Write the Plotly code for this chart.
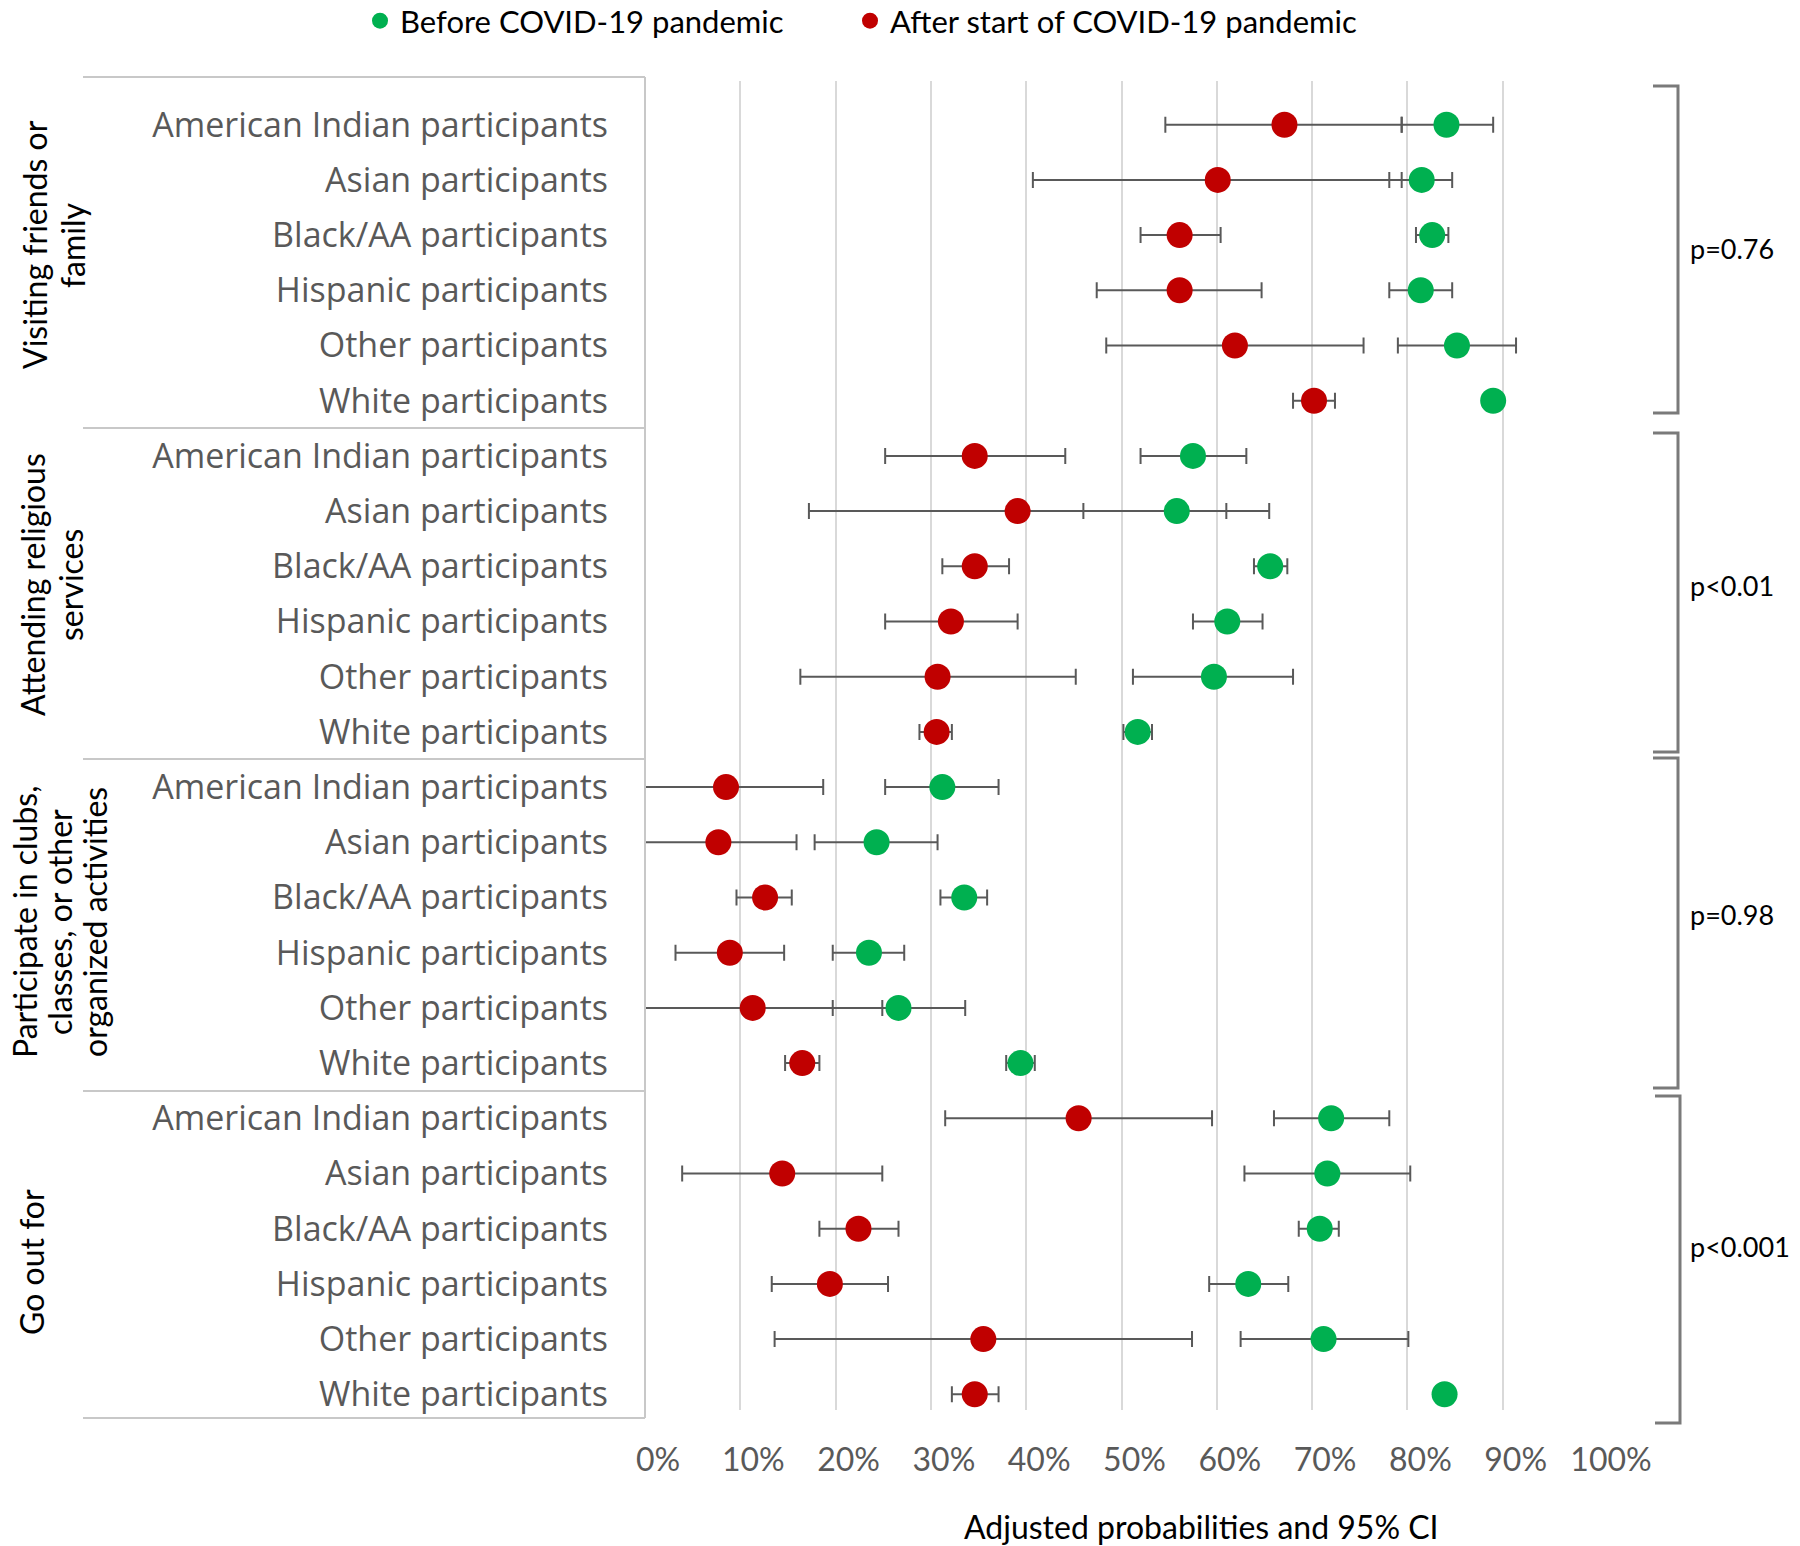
import plotly.graph_objects as go

# ---------------- data (percent) ----------------
races = ["American Indian participants", "Asian participants", "Black/AA participants",
         "Hispanic participants", "Other participants", "White participants"]
activity_lines = [["Visiting friends or", "family"],
                  ["Attending religious", "services"],
                  ["Participate in clubs,", "classes, or other", "organized activities"],
                  ["Go out for"]]
p_values = ["p=0.76", "p<0.01", "p=0.98", "p<0.001"]

# Before COVID-19 pandemic (green)
before_est = [84.1, 81.5, 82.6, 81.4, 85.2, 89.0,
              57.5, 55.8, 65.6, 61.1, 59.7, 51.7,
              31.2, 24.3, 33.5, 23.5, 26.6, 39.4,
              72.0, 71.6, 70.8, 63.3, 71.2, 83.9]
before_lo = [79.4, 78.1, 80.9, 78.1, 79.0, 88.2,
             52.0, 46.0, 63.9, 57.5, 51.2, 50.2,
             25.2, 17.8, 31.0, 19.7, 19.7, 37.9,
             66.0, 62.9, 68.6, 59.2, 62.5, 83.2]
before_hi = [89.0, 84.7, 84.3, 84.7, 91.4, 89.8,
             63.1, 65.5, 67.4, 64.8, 68.0, 53.2,
             37.1, 30.7, 35.9, 27.2, 33.6, 40.9,
             78.1, 80.3, 72.8, 67.5, 80.1, 84.6]

# After start of COVID-19 pandemic (red)
after_est = [67.1, 60.1, 56.1, 56.1, 61.9, 70.2,
             34.6, 39.1, 34.6, 32.1, 30.7, 30.6,
             8.5, 7.7, 12.6, 8.9, 11.3, 16.5,
             45.5, 14.4, 22.4, 19.4, 35.5, 34.6]
after_lo = [54.6, 40.7, 52.0, 47.4, 48.4, 68.0,
            25.2, 17.2, 31.2, 25.2, 16.3, 28.8,
            -1.7, -0.5, 9.6, 3.2, -2.3, 14.7,
            31.5, 3.9, 18.3, 13.3, 13.6, 32.2]
after_hi = [79.4, 79.4, 60.4, 64.7, 75.4, 72.4,
            44.1, 61.0, 38.2, 39.1, 45.2, 32.2,
            18.7, 15.9, 15.4, 14.6, 24.9, 18.3,
            59.5, 24.9, 26.6, 25.5, 57.4, 37.1]

x_ticks = list(range(0, 101, 10))

# ---------------- layout geometry ----------------
W, H = 1800, 1546
PL, PR, PT, PB = 645, 1598, 81, 1410


def px_x(px):
    return (px - PL) / (PR - PL)


def px_y(py):
    return (PB - py) / (PB - PT)


n_rows = len(races) * len(activity_lines)
rows = list(range(n_rows))
row_labels = races * len(activity_lines)

GREEN = "#00B050"
RED = "#C00000"
ERR = "#595959"

fig = go.Figure()


def err_trace(est, lo, hi):
    return go.Scatter(
        x=est, y=rows, mode="markers",
        marker=dict(size=1, opacity=0),
        error_x=dict(type="data", symmetric=False,
                     array=[h - e for h, e in zip(hi, est)],
                     arrayminus=[e - l for e, l in zip(est, lo)],
                     color=ERR, thickness=2, width=8),
        showlegend=False, hoverinfo="skip")


fig.add_trace(err_trace(before_est, before_lo, before_hi))
fig.add_trace(err_trace(after_est, after_lo, after_hi))

fig.add_trace(go.Scatter(x=before_est, y=rows, mode="markers", name="Before COVID-19 pandemic",
                         marker=dict(color=GREEN, size=26, line=dict(width=0)),
                         legend="legend"))
fig.add_trace(go.Scatter(x=after_est, y=rows, mode="markers", name="After start of COVID-19 pandemic",
                         marker=dict(color=RED, size=26, line=dict(width=0)),
                         legend="legend2"))

shapes = []
LINE_C = "#c8c8c8"
# row separators on the category side
for py in [77, 428, 759, 1091, 1418]:
    shapes.append(dict(type="line", xref="paper", yref="paper",
                       x0=px_x(83), x1=px_x(645), y0=px_y(py), y1=px_y(py),
                       line=dict(color=LINE_C, width=2)))
shapes.append(dict(type="line", xref="paper", yref="paper",
                   x0=0, x1=0, y0=px_y(77), y1=px_y(1418),
                   line=dict(color=LINE_C, width=2)))

# brackets on the right
BR_C = "#7a7a7a"
brackets = [(86, 413, 1653, 1678), (433, 752, 1653, 1678),
            (758, 1088, 1653, 1678), (1096, 1423, 1655, 1680)]
for (y0, y1, xa, xb) in brackets:
    path = "M {a},{t} L {b},{t} L {b},{bt} L {a},{bt}".format(
        a=px_x(xa), b=px_x(xb), t=px_y(y0), bt=px_y(y1))
    shapes.append(dict(type="path", xref="paper", yref="paper", path=path,
                       line=dict(color=BR_C, width=3)))

annotations = []
# activity group labels (rotated)
group_pos = [([34, 72], 245), ([32, 70], 585), ([24, 59, 94], 922), ([31], 1262)]
for lines, (xs, yc) in zip(activity_lines, group_pos):
    for text, xc in zip(lines, xs):
        annotations.append(dict(text=text, xref="paper", yref="paper",
                                x=px_x(xc), y=px_y(yc), xanchor="center", yanchor="middle",
                                textangle=-90, showarrow=False,
                                font=dict(family="Lato", size=32, color="black")))

# p-values
p_y = [248, 585, 914, 1246]
for txt, py in zip(p_values, p_y):
    annotations.append(dict(text=txt, xref="paper", yref="paper",
                            x=px_x(1688), y=px_y(py), xanchor="left", yanchor="middle",
                            showarrow=False,
                            font=dict(family="Lato", size=27, color="black")))

# x-axis title
annotations.append(dict(text="Adjusted probabilities and 95% CI", xref="paper", yref="paper",
                        x=px_x(1201), y=px_y(1526), xanchor="center", yanchor="middle",
                        showarrow=False, font=dict(family="Lato", size=32, color="black")))

row_top = -(124.7 - PT) / 55.2
row_bot = (n_rows - 1) + (PB - 1394.3) / 55.2

legend_font = dict(family="Lato", size=31, color="black")
fig.update_layout(
    width=W, height=H,
    margin=dict(l=PL, r=W - PR, t=PT, b=H - PB, autoexpand=False),
    plot_bgcolor="white", paper_bgcolor="white",
    shapes=shapes, annotations=annotations,
    legend=dict(orientation="h", x=px_x(360), y=px_y(21), xanchor="left", yanchor="middle",
                font=legend_font, bgcolor="rgba(0,0,0,0)"),
    legend2=dict(orientation="h", x=px_x(850), y=px_y(21), xanchor="left", yanchor="middle",
                 font=legend_font, bgcolor="rgba(0,0,0,0)"),
    xaxis=dict(range=[0, 100], tickvals=x_ticks, ticktext=[f"{v}%" for v in x_ticks],
               showgrid=True, gridcolor="#d9d9d9", gridwidth=2, zeroline=False,
               showline=False, ticks="", ticklabelshift=13, ticklabelstandoff=28,
               tickfont=dict(family="Lato", size=32, color="#595959")),
    yaxis=dict(range=[row_bot, row_top], tickvals=rows, ticktext=row_labels,
               showgrid=False, zeroline=False, showline=False, ticks="",
               ticklabelstandoff=36,
               tickfont=dict(family="Open Sans", size=34, color="#595959")),
)

fig.write_html("out.html", config={"displayModeBar": False},
               post_script="document.body.style.margin='0';document.body.style.overflow='hidden';")
